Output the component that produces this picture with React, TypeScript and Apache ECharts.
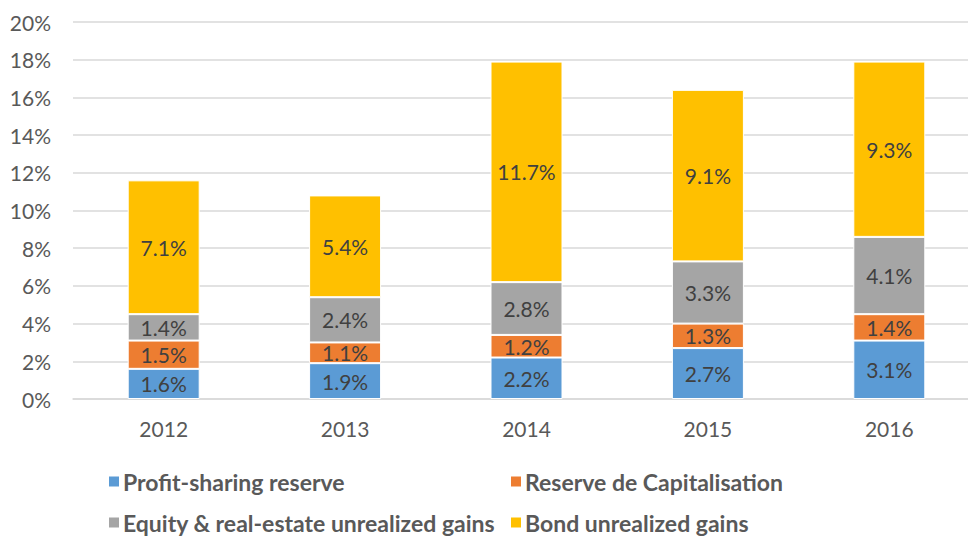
import React, { useEffect, useRef } from "react";
import * as echarts from "echarts";

const years = ["2012", "2013", "2014", "2015", "2016"];
const profitSharing = [1.6, 1.9, 2.2, 2.7, 3.1];
const reserveCap = [1.5, 1.1, 1.2, 1.3, 1.4];
const equityGains = [1.4, 2.4, 2.8, 3.3, 4.1];
const bondGains = [7.1, 5.4, 11.7, 9.1, 9.3];
const seriesNames = [
  "Profit-sharing reserve",
  "Reserve de Capitalisation",
  "Equity & real-estate unrealized gains",
  "Bond unrealized gains",
];
const colors = ["#5B9BD5", "#ED7D31", "#A5A5A5", "#FFC000"];

export default function App() {
  const ref = useRef<HTMLDivElement>(null);
  useEffect(() => {
    if (!ref.current) return;
    const chart = echarts.init(ref.current, null, { renderer: "svg" });
    const font = "Lato, 'Open Sans', sans-serif";
    const dataSets = [profitSharing, reserveCap, equityGains, bondGains];
    const legendPos = [
      { left: 107, top: 470 },
      { left: 509, top: 470 },
      { left: 107, top: 511 },
      { left: 509, top: 511 },
    ];
    chart.setOption({
      animation: false,
      textStyle: { fontFamily: font },
      grid: { left: 73, right: 0, top: 22, bottom: 139, containLabel: false },
      xAxis: {
        type: "category",
        data: years,
        axisLine: { lineStyle: { color: "#D9D9D9", width: 1.5 } },
        axisTick: { show: false },
        axisLabel: { color: "#595959", fontSize: 21, margin: 19, fontFamily: font },
      },
      yAxis: {
        type: "value",
        min: 0,
        max: 20,
        interval: 2,
        axisLine: { show: false },
        axisTick: { show: false },
        splitLine: { lineStyle: { color: "#D9D9D9", width: 1.5 } },
        axisLabel: {
          color: "#595959",
          fontSize: 21,
          margin: 22,
          fontFamily: font,
          formatter: "{value}%",
        },
      },
      legend: seriesNames.map((n, i) => ({
        data: [n],
        left: legendPos[i].left,
        top: legendPos[i].top,
        itemWidth: 12,
        itemHeight: 12,
        icon: "rect",
        padding: 0,
        itemGap: 0,
        textStyle: {
          color: "#595959",
          fontSize: 23,
          fontWeight: "bold",
          fontFamily: font,
          padding: [0, 0, 0, -2],
        },
      })),
      series: seriesNames.map((n, i) => ({
        name: n,
        type: "bar",
        stack: "total",
        barWidth: 72,
        data: dataSets[i],
        itemStyle: { color: colors[i], borderColor: "#FFFFFF", borderWidth: 1 },
        label: {
          show: true,
          position: "inside",
          color: "#404040",
          fontSize: 21,
          fontFamily: font,
          formatter: (p: any) => p.value.toFixed(1) + "%",
        },
      })),
    });
    return () => chart.dispose();
  }, []);
  return (
    <div
      style={{ position: "fixed", left: 0, top: 0, width: 968, height: 538, overflow: "hidden", background: "#fff" }}
    >
      <div ref={ref} style={{ width: 980, height: 538 }} />
    </div>
  );
}
